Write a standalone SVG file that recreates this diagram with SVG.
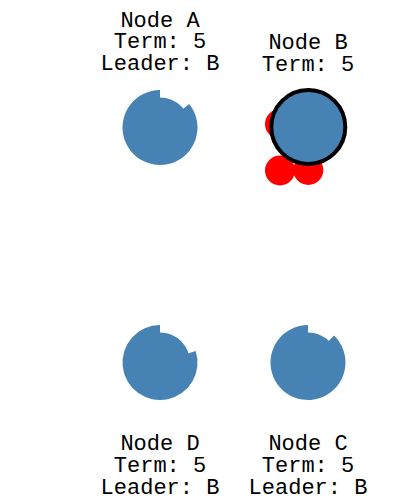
<svg xmlns="http://www.w3.org/2000/svg" width="404" height="502" viewBox="0 0 404 502">
<style>
  .lbl { font-family: "Liberation Mono", "Courier New", monospace; font-size: 22px; fill: #000; text-anchor: middle; }
  .body { fill: #4682b4; }
  .msg { fill: #ff0000; }
  .leader { fill: #4682b4; stroke: #000; stroke-width: 4; }
</style>
<rect width="404" height="502" fill="#fff"/>
<g id="messages">
  <circle class="msg" cx="280" cy="124" r="15"/>
  <circle class="msg" cx="280" cy="170.5" r="15"/>
  <circle class="msg" cx="308.3" cy="170" r="15"/>
</g>
<g id="nodeA">
  <circle class="body" cx="160" cy="127.5" r="30"/>
  <path class="body" d="M160,127.5 L189.14,103.9 A37.5,37.5 0 1 1 160,90 Z"/>
  <text class="lbl" x="160" y="26.7">Node A</text>
  <text class="lbl" x="160" y="48.4">Term: 5</text>
  <text class="lbl" x="160" y="70">Leader: B</text>
</g>
<g id="nodeB">
  <circle class="leader" cx="308.3" cy="127" r="37"/>
  <text class="lbl" x="308" y="49">Node B</text>
  <text class="lbl" x="308" y="70.7">Term: 5</text>
</g>
<g id="nodeD">
  <circle class="body" cx="160" cy="362.5" r="30"/>
  <path class="body" d="M160,362.5 L195.67,350.91 A37.5,37.5 0 1 1 160,325 Z"/>
  <text class="lbl" x="160" y="450">Node D</text>
  <text class="lbl" x="160" y="472.2">Term: 5</text>
  <text class="lbl" x="160" y="494">Leader: B</text>
</g>
<g id="nodeC">
  <circle class="body" cx="308" cy="362.5" r="30"/>
  <path class="body" d="M308,362.5 L334.05,335.53 A37.5,37.5 0 1 1 308,325 Z"/>
  <text class="lbl" x="308" y="450">Node C</text>
  <text class="lbl" x="308" y="472.2">Term: 5</text>
  <text class="lbl" x="308" y="494">Leader: B</text>
</g>
</svg>
